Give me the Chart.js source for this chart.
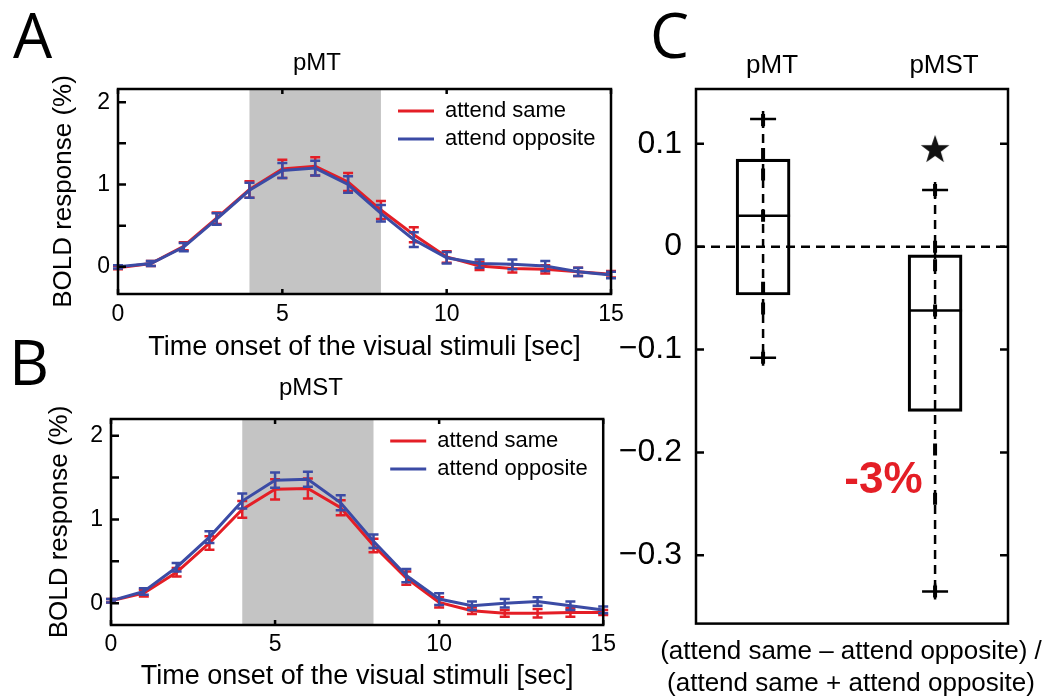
<!DOCTYPE html>
<html>
<head>
<meta charset="utf-8">
<script src="https://cdn.jsdelivr.net/npm/chart.js@4.4.1/dist/chart.umd.min.js"></script>
<style>
  body { margin: 0; background: #fff; width: 1050px; height: 699px; position: relative; overflow: hidden; }
  canvas { position: absolute; }
  .letter { position: absolute; font-family: "Open Sans", sans-serif; font-size: 62px; line-height: 62px; color: #000; }
</style>
</head>
<body>
<div class="letter" style="left:13px;top:3px">A</div>
<div class="letter" style="left:9px;top:330px">B</div>
<div class="letter" style="left:650px;top:3px">C</div>

<canvas id="chartA" width="634" height="368" style="left:0;top:0"></canvas>
<canvas id="chartB" width="622" height="369" style="left:0;top:330px"></canvas>
<canvas id="chartC" width="490" height="699" style="left:606px;top:0"></canvas>

<script>
// ---- data ----
const times = [0, 1, 2, 3, 4, 5, 6, 7, 8, 9, 10, 11, 12, 13, 14, 15];
const seriesNames = ['attend same', 'attend opposite'];
const stimOn = 4;
const stimOff = 8;

// pMT
const mtSame = [-0.01, 0.04, 0.25, 0.59, 0.94, 1.19, 1.22, 1.03, 0.69, 0.39, 0.12, 0.01, -0.02, -0.03, -0.06, -0.09];
const mtSameErr = [0.02, 0.03, 0.05, 0.07, 0.10, 0.11, 0.11, 0.11, 0.11, 0.09, 0.07, 0.05, 0.05, 0.05, 0.05, 0.04];
const mtOpp = [0.00, 0.04, 0.24, 0.58, 0.93, 1.17, 1.20, 1.00, 0.65, 0.33, 0.11, 0.04, 0.03, 0.01, -0.06, -0.10];
const mtOppErr = [0.02, 0.03, 0.05, 0.07, 0.09, 0.09, 0.09, 0.10, 0.10, 0.09, 0.07, 0.05, 0.06, 0.06, 0.05, 0.04];

// pMST
const mstSame = [0.03, 0.12, 0.37, 0.72, 1.12, 1.36, 1.37, 1.14, 0.69, 0.30, 0.01, -0.09, -0.12, -0.12, -0.11, -0.11];
const mstSameErr = [0.02, 0.04, 0.05, 0.08, 0.10, 0.12, 0.12, 0.09, 0.08, 0.08, 0.06, 0.04, 0.04, 0.05, 0.05, 0.03];
const mstOpp = [0.03, 0.14, 0.43, 0.79, 1.22, 1.47, 1.48, 1.20, 0.74, 0.33, 0.05, -0.03, 0.00, 0.02, -0.03, -0.08];
const mstOppErr = [0.02, 0.04, 0.05, 0.07, 0.09, 0.09, 0.09, 0.09, 0.08, 0.08, 0.07, 0.05, 0.05, 0.05, 0.05, 0.04];

const timeTicks = [0, 5, 10, 15];
const boldTicks = [0, 0.5, 1, 1.5, 2];

// panel C boxplot
const regions = ['pMT', 'pMST'];
const boxQ1 = [-0.047, -0.160];
const boxMedian = [0.030, -0.062];
const boxQ3 = [0.085, -0.008];
const whiskerLow = [-0.108, -0.335];
const whiskerHigh = [0.124, 0.055];
const subjectMarks = [
  [0.123, 0.090, 0.070, 0.030, -0.040, -0.060, -0.108],
  [0.055, 0.000, -0.018, -0.062, -0.197, -0.245, -0.335]
];
const starRegion = 2;
const starValue = 0.095;
const changeLabel = '-3%';
const indexTicks = [-0.3, -0.2, -0.1, 0, 0.1];

const RED = '#e41e26';
const BLUE = '#3b4ba5';

Chart.defaults.font.family = '"Liberation Sans", Arial, sans-serif';
Chart.defaults.color = '#000';

// ---- plugins ----
const stimShade = {
  id: 'stimShade',
  beforeDatasetsDraw(chart, args, opts) {
    if (opts.from === undefined) return;
    const { ctx, chartArea: a, scales: { x } } = chart;
    const x0 = x.getPixelForValue(opts.from);
    const x1 = x.getPixelForValue(opts.to);
    ctx.save();
    ctx.fillStyle = '#c4c4c4';
    ctx.fillRect(x0, a.top, x1 - x0, a.bottom - a.top);
    ctx.restore();
  }
};

const errorBars = {
  id: 'errorBars',
  afterDatasetDraw(chart, args) {
    const ds = chart.data.datasets[args.index];
    if (!ds.errors) return;
    const { ctx, scales: { y } } = chart;
    ctx.save();
    ctx.strokeStyle = ds.borderColor;
    ctx.lineWidth = 2.5;
    args.meta.data.forEach((pt, i) => {
      const v = ds.data[i].y;
      const e = ds.errors[i];
      const top = y.getPixelForValue(v + e);
      const bot = y.getPixelForValue(v - e);
      ctx.beginPath();
      ctx.moveTo(pt.x, top); ctx.lineTo(pt.x, bot);
      ctx.moveTo(pt.x - 5, top); ctx.lineTo(pt.x + 5, top);
      ctx.moveTo(pt.x - 5, bot); ctx.lineTo(pt.x + 5, bot);
      ctx.stroke();
    });
    ctx.restore();
  }
};

const insideLegend = {
  id: 'insideLegend',
  afterDraw(chart, args, opts) {
    if (!opts.show) return;
    const { ctx, chartArea: a } = chart;
    ctx.save();
    ctx.font = '22px "Liberation Sans", Arial, sans-serif';
    ctx.textBaseline = 'middle';
    chart.data.datasets.forEach((ds, i) => {
      const yy = a.top + 22 + i * 28;
      ctx.strokeStyle = ds.borderColor;
      ctx.lineWidth = 3;
      ctx.beginPath();
      ctx.moveTo(a.right - 213, yy); ctx.lineTo(a.right - 177, yy);
      ctx.stroke();
      ctx.fillStyle = '#000';
      ctx.fillText(ds.label, a.right - 166, yy);
    });
    ctx.restore();
  }
};

const frame = {
  id: 'frame',
  afterDraw(chart, args, opts) {
    const { ctx, chartArea: a, scales } = chart;
    ctx.save();
    ctx.strokeStyle = '#000';
    ctx.lineWidth = 2.5;
    ctx.beginPath();
    scales.y.ticks.forEach(t => {
      const py = scales.y.getPixelForValue(t.value);
      ctx.moveTo(a.left, py); ctx.lineTo(a.left + 8, py);
      if (opts.rightTicks) { ctx.moveTo(a.right, py); ctx.lineTo(a.right - 8, py); }
    });
    if (opts.xTicks) {
      scales.x.ticks.forEach(t => {
        const px = scales.x.getPixelForValue(t.value);
        ctx.moveTo(px, a.bottom); ctx.lineTo(px, a.bottom - 5);
        ctx.moveTo(px, a.top); ctx.lineTo(px, a.top + 5);
      });
    }
    ctx.stroke();
    ctx.strokeRect(a.left, a.top, a.right - a.left, a.bottom - a.top);
    ctx.restore();
  }
};

const note = {
  id: 'note',
  afterDatasetsDraw(chart, args, opts) {
    if (!opts.text) return;
    const { ctx, scales: { x, y } } = chart;
    ctx.save();
    ctx.font = 'bold 44px "Liberation Sans", Arial, sans-serif';
    ctx.fillStyle = RED;
    ctx.textAlign = 'center';
    ctx.textBaseline = 'middle';
    ctx.fillText(opts.text, x.getPixelForValue(opts.x), y.getPixelForValue(opts.y));
    ctx.restore();
  }
};

// ---- panels A and B ----
function timeCourse(canvasId, title, same, sameErr, opp, oppErr, lay) {
  const data = {
    datasets: [
      {
        label: seriesNames[0],
        data: times.map((t, i) => ({ x: t, y: same[i] })),
        errors: sameErr,
        borderColor: RED,
        borderWidth: 3,
        pointRadius: 0,
        order: 2
      },
      {
        label: seriesNames[1],
        data: times.map((t, i) => ({ x: t, y: opp[i] })),
        errors: oppErr,
        borderColor: BLUE,
        borderWidth: 3,
        pointRadius: 0,
        order: 1
      }
    ]
  };

  const config = {
    type: 'line',
    data: data,
    options: {
      responsive: false,
      animation: false,
      layout: { padding: 0 },
      plugins: {
        legend: { display: false },
        tooltip: { enabled: false },
        title: {
          display: true,
          text: title,
          font: { size: 24, weight: 'normal' },
          padding: { top: lay.titleTop, bottom: lay.titleBottom }
        },
        stimShade: { from: stimOn, to: stimOff },
        insideLegend: { show: true },
        frame: { xTicks: true }
      },
      scales: {
        x: {
          type: 'linear',
          min: 0,
          max: 15,
          afterBuildTicks: s => { s.ticks = timeTicks.map(v => ({ value: v })); },
          ticks: { font: { size: 23 }, padding: lay.xTickPad, maxRotation: 0 },
          grid: { display: false, drawTicks: false },
          border: { display: false },
          title: {
            display: true,
            text: 'Time onset of the visual stimuli [sec]',
            font: { size: 27 },
            padding: { top: 0, bottom: lay.xTitlePad }
          },
          afterFit: s => { s.height = lay.xAxisH; }
        },
        y: {
          min: lay.yMin,
          max: lay.yMax,
          afterBuildTicks: s => { s.ticks = boldTicks.map(v => ({ value: v })); },
          ticks: { font: { size: 23 }, padding: 8, callback: v => Number.isInteger(v) ? String(v) : '' },
          grid: { display: false, drawTicks: false },
          border: { display: false },
          title: {
            display: true,
            text: 'BOLD response (%)',
            font: { size: 26 },
            padding: { top: lay.yTitlePad, bottom: 0 }
          },
          afterFit: s => { s.width = lay.yAxisW; }
        },
        y2: {
          position: 'right',
          ticks: { display: false },
          grid: { display: false, drawTicks: false },
          border: { display: false },
          afterFit: s => { s.width = lay.rightW; }
        }
      }
    },
    plugins: [stimShade, errorBars, insideLegend, frame]
  };

  new Chart(document.getElementById(canvasId), config);
}

timeCourse('chartA', 'pMT', mtSame, mtSameErr, mtOpp, mtOppErr, {
  titleTop: 48.6, titleBottom: 11.6,
  xTickPad: 7, xTitlePad: 3.8, xAxisH: 74,
  yMin: -0.33, yMax: 2.16, yTitlePad: 48, yAxisW: 118, rightW: 23
});

timeCourse('chartB', 'pMST', mstSame, mstSameErr, mstOpp, mstOppErr, {
  titleTop: 43.6, titleBottom: 16.6,
  xTickPad: 6, xTitlePad: 5.8, xAxisH: 74,
  yMin: -0.26, yMax: 2.20, yTitlePad: 44, yAxisW: 111, rightW: 13
});

// ---- panel C ----
const starImg = document.createElement('canvas');
starImg.width = 30;
starImg.height = 30;
(function () {
  const c = starImg.getContext('2d');
  c.fillStyle = '#111';
  c.beginPath();
  for (let k = 0; k < 10; k++) {
    const r = k % 2 === 0 ? 15 : 6;
    const ang = -Math.PI / 2 + k * Math.PI / 5;
    const px = 15 + r * Math.cos(ang);
    const py = 16 + r * Math.sin(ang);
    if (k === 0) c.moveTo(px, py); else c.lineTo(px, py);
  }
  c.closePath();
  c.fill();
})();

const xMinC = 0.61;
const xMaxC = 2.424;

const whiskerSets = regions.map((r, i) => ({
  type: 'scatter',
  showLine: true,
  data: [{ x: i + 1, y: whiskerHigh[i] }, { x: i + 1, y: whiskerLow[i] }],
  borderColor: '#000',
  borderWidth: 2.5,
  borderDash: [9, 6],
  pointRadius: 0,
  order: 5
}));

const capPoints = [];
regions.forEach((r, i) => {
  capPoints.push({ x: i + 1, y: whiskerHigh[i] });
  capPoints.push({ x: i + 1, y: whiskerLow[i] });
});

const markPoints = [];
subjectMarks.forEach((vals, i) => vals.forEach(v => markPoints.push({ x: i + 1, y: v })));

const dataC = {
  datasets: [
    {
      type: 'scatter',
      showLine: true,
      data: [{ x: xMinC, y: 0 }, { x: xMaxC, y: 0 }],
      borderColor: '#000',
      borderWidth: 2.5,
      borderDash: [9, 6],
      pointRadius: 0,
      order: 6
    },
    ...whiskerSets,
    {
      type: 'bar',
      data: regions.map((r, i) => ({ x: i + 1, y: [boxQ1[i], boxQ3[i]] })),
      backgroundColor: 'rgba(0,0,0,0)',
      borderColor: '#000',
      borderWidth: 2.5,
      borderSkipped: false,
      barThickness: 54,
      order: 4
    },
    {
      type: 'scatter',
      data: regions.map((r, i) => ({ x: i + 1, y: boxMedian[i] })),
      pointStyle: 'line',
      pointRadius: 27,
      pointBorderWidth: 2.5,
      pointBorderColor: '#000',
      order: 3
    },
    {
      type: 'scatter',
      data: capPoints,
      pointStyle: 'line',
      pointRadius: 13,
      pointBorderWidth: 2.5,
      pointBorderColor: '#000',
      order: 2
    },
    {
      type: 'scatter',
      data: capPoints,
      pointStyle: 'line',
      pointRotation: 90,
      pointRadius: 8,
      pointBorderWidth: 2.5,
      pointBorderColor: '#000',
      order: 2
    },
    {
      type: 'scatter',
      data: markPoints,
      pointStyle: 'line',
      pointRotation: 90,
      pointRadius: 6,
      pointBorderWidth: 4,
      pointBorderColor: '#000',
      order: 1
    },
    {
      type: 'scatter',
      data: [{ x: starRegion, y: starValue }],
      pointStyle: starImg,
      order: 0
    }
  ]
};

const configC = {
  type: 'bar',
  data: dataC,
  options: {
    responsive: false,
    animation: false,
    layout: { padding: 0 },
    plugins: {
      legend: { display: false },
      tooltip: { enabled: false },
      title: {
        display: true,
        position: 'bottom',
        text: ['(attend same \u2013 attend opposite) /', '(attend same + attend opposite)'],
        font: { size: 26, weight: 'normal' },
        padding: { top: 13, bottom: 0 }
      },
      frame: { rightTicks: true },
      note: { text: changeLabel, x: 1.70, y: -0.228 }
    },
    scales: {
      x: {
        type: 'linear',
        position: 'top',
        min: xMinC,
        max: xMaxC,
        offset: false,
        afterBuildTicks: s => { s.ticks = regions.map((r, i) => ({ value: i + 1 })); },
        ticks: { font: { size: 26 }, padding: 8, labelOffset: 9, maxRotation: 0, autoSkip: false, callback: (v, i) => regions[i] },
        grid: { display: false, drawTicks: false },
        border: { display: false },
        afterFit: s => { s.height = 89; }
      },
      y: {
        min: -0.3663,
        max: 0.1532,
        afterBuildTicks: s => { s.ticks = indexTicks.map(v => ({ value: v })); },
        ticks: {
          font: { size: 32 },
          padding: 14,
          callback: v => v === 0 ? '0' : (v < 0 ? '\u2212' : '') + Math.abs(v).toFixed(1)
        },
        grid: { display: false, drawTicks: false },
        border: { display: false },
        afterFit: s => { s.width = 90; }
      },
      y2: {
        position: 'right',
        ticks: { display: false },
        grid: { display: false, drawTicks: false },
        border: { display: false },
        afterFit: s => { s.width = 88; }
      }
    }
  },
  plugins: [frame, note]
};

new Chart(document.getElementById('chartC'), configC);
</script>
</body>
</html>
